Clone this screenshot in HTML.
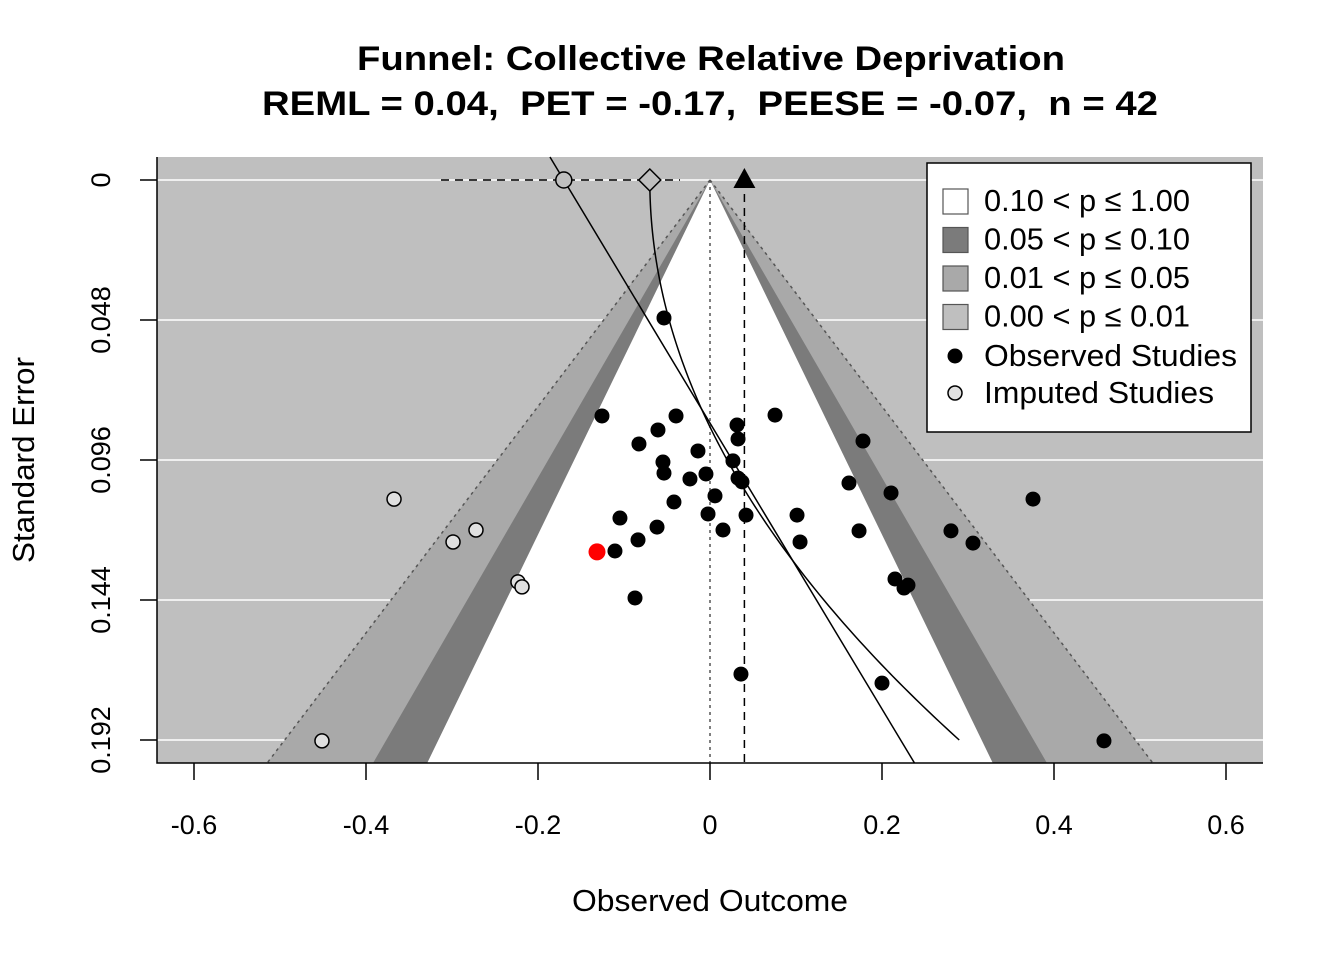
<!DOCTYPE html>
<html><head><meta charset="utf-8"><style>
body{margin:0;background:#fff;}
svg text{font-family:"Liberation Sans",Arial,sans-serif;white-space:pre;}
</style></head><body>
<svg id="chart" width="1344" height="960" xmlns="http://www.w3.org/2000/svg" xml:space="preserve">
<text x="711" y="70" text-anchor="middle" font-size="34" font-weight="bold" textLength="708" lengthAdjust="spacingAndGlyphs">Funnel: Collective Relative Deprivation</text>
<text x="710" y="115" text-anchor="middle" font-size="34" font-weight="bold" textLength="896" lengthAdjust="spacingAndGlyphs">REML = 0.04,  PET = -0.17,  PEESE = -0.07,  n = 42</text>
<g id="plot"></g>
<text x="710" y="911" text-anchor="middle" font-size="31" textLength="276" lengthAdjust="spacingAndGlyphs">Observed Outcome</text>
<text transform="translate(34,460) rotate(-90)" text-anchor="middle" font-size="31" textLength="206" lengthAdjust="spacingAndGlyphs">Standard Error</text>
</svg>
<script>
const obsEst=[-0.0535,-0.1256,-0.0395,0.0756,0.0314,-0.0605,0.0326,-0.0826,0.1779,-0.014,0.0267,-0.0547,-0.0535,-0.0047,-0.0233,0.0326,0.0372,0.1616,0.2105,0.0058,-0.0419,0.3756,-0.0023,0.1012,0.0419,-0.1047,-0.0616,0.0151,0.1733,0.2802,-0.0837,0.1047,0.3058,-0.1105,0.2151,0.2256,0.2302,-0.0872,0.036,0.2,0.4581];
const obsSE=[0.0473,0.0809,0.0809,0.0806,0.084,0.0857,0.0888,0.0905,0.0895,0.0929,0.0963,0.0967,0.1005,0.1008,0.1025,0.1022,0.1035,0.1039,0.1073,0.1083,0.1104,0.1094,0.1145,0.1149,0.1149,0.1159,0.119,0.12,0.1203,0.1203,0.1234,0.1241,0.1245,0.1272,0.1368,0.1399,0.1389,0.1433,0.1694,0.1725,0.1923];
const highEst=[-0.1314];
const highSE=[0.1275];
const impEst=[-0.3674,-0.2721,-0.2988,-0.2233,-0.2186,-0.4512];
const impSE=[0.1094,0.12,0.1241,0.1378,0.1395,0.1923];
const xTicks=[-0.6,-0.4,-0.2,0,0.2,0.4,0.6];
const xTickLabels=["-0.6","-0.4","-0.2","0","0.2","0.4","0.6"];
const yTicks=[0,0.048,0.096,0.144,0.192];
const yTickLabels=["0","0.048","0.096","0.144","0.192"];
const reml=[0.04], pet=[-0.17, 2.04], peese=[-0.07, 9.76];
const zVals=[1.645,1.96,2.576];

const NS="http://www.w3.org/2000/svg";
const L=157,R=1263,T=157,B=763;
const X=v=>710+v*860, Y=s=>180+s*2916.7;
const seMin=(T-180)/2916.7, seMax=(B-180)/2916.7;
const g=document.getElementById('plot');
function mk(tag,attrs){const e=document.createElementNS(NS,tag);for(const k in attrs)e.setAttribute(k,attrs[k]);g.appendChild(e);return e;}
let e=mk('rect',{x:L,y:T,width:R-L,height:B-T,fill:'#bfbfbf'});


yTicks.forEach((t,i)=>{let l=mk('line',{x1:L,x2:R,y1:Y(t),y2:Y(t),stroke:'#fff','stroke-width':1.5});

});
function tri(z,fill,name){let p=mk('polygon',{points:`${X(0)},${Y(0)} ${X(-z*seMax)},${B} ${X(z*seMax)},${B}`,fill:fill});

}
tri(zVals[2],'#a9a9a9','region-p01-05');
tri(zVals[1],'#7b7b7b','region-p05-10');
tri(zVals[0],'#ffffff','region-p10-100');
[-1,1].forEach(s=>{let l=mk('polyline',{points:`${X(0)},${Y(0)} ${X(s*zVals[2]*seMax)},${B}`,stroke:'#555','stroke-dasharray':'3,4',fill:'none','stroke-width':1.5});

});
e=mk('line',{x1:X(0),x2:X(0),y1:Y(0),y2:B,stroke:'#555','stroke-dasharray':'3,4','stroke-width':1.5});


e=mk('line',{x1:X(reml[0]),x2:X(reml[0]),y1:Y(0),y2:B,stroke:'#000','stroke-dasharray':'8,6','stroke-width':1.5});


e=mk('line',{x1:441,x2:680,y1:Y(0),y2:Y(0),stroke:'#000','stroke-dasharray':'8,6','stroke-width':1.5});


e=mk('line',{x1:X(pet[0]+pet[1]*seMin),y1:T,x2:X(pet[0]+pet[1]*seMax),y2:B,stroke:'#000','stroke-width':1.5});


let pts=[];for(let s=0;s<=0.1925;s+=0.002)pts.push(X(peese[0]+peese[1]*s*s)+','+Y(s));
e=mk('polyline',{points:pts.join(' '),stroke:'#000',fill:'none','stroke-width':1.5});


e=mk('circle',{cx:X(pet[0]),cy:Y(0),r:8,fill:'#bfbfbf',stroke:'#000','stroke-width':1.5});


const dx=X(peese[0]),dy=Y(0);
e=mk('polygon',{points:`${dx},${dy-11} ${dx+11},${dy} ${dx},${dy+11} ${dx-11},${dy}`,fill:'#bfbfbf',stroke:'#000','stroke-width':1.5});


const tx=X(reml[0]);
e=mk('polygon',{points:`${tx},${dy-12} ${tx+11},${dy+8} ${tx-11},${dy+8}`,fill:'#000'});


impEst.forEach((v,i)=>{let c=mk('circle',{cx:X(v),cy:Y(impSE[i]),r:7,fill:'#e0e0e0',stroke:'#000','stroke-width':1.5});

});
obsEst.forEach((v,i)=>{let c=mk('circle',{cx:X(v),cy:Y(obsSE[i]),r:7.5,fill:'#000'});

});
highEst.forEach((v,i)=>{let c=mk('circle',{cx:X(v),cy:Y(highSE[i]),r:8.5,fill:'#ff0000'});

});
e=mk('polyline',{points:`${L},${T} ${L},${B} ${R},${B}`,fill:'none',stroke:'#000','stroke-width':1.5});


xTicks.forEach((t,i)=>{mk('line',{x1:X(t),x2:X(t),y1:B,y2:B+17,stroke:'#000','stroke-width':1.5});
let tt=mk('text',{x:X(t),y:834,'text-anchor':'middle','font-size':27});tt.textContent=xTickLabels[i];

});
yTicks.forEach((t,i)=>{mk('line',{x1:L,x2:L-17,y1:Y(t),y2:Y(t),stroke:'#000','stroke-width':1.5});
let tt=mk('text',{transform:`translate(110,${Y(t)}) rotate(-90)`,'text-anchor':'middle','font-size':27});tt.textContent=yTickLabels[i];

});
// legend
e=mk('rect',{x:927,y:163,width:324,height:269,fill:'#fff',stroke:'#000','stroke-width':1.5});


const leg=[['#ffffff','0.10 < p ≤ 1.00'],['#7b7b7b','0.05 < p ≤ 0.10'],['#a9a9a9','0.01 < p ≤ 0.05'],['#bfbfbf','0.00 < p ≤ 0.01']];
leg.forEach((l,i)=>{const y=201+i*38.5;
let r=mk('rect',{x:943,y:y-12,width:25,height:25,fill:l[0],stroke:'#555','stroke-width':1.2});


let t=mk('text',{x:984,y:y+10,'font-size':31,textLength:206,lengthAdjust:'spacingAndGlyphs'});t.textContent=l[1];

});
e=mk('circle',{cx:955,cy:356,r:7.5,fill:'#000'});
e=mk('text',{x:984,y:366,'font-size':31,textLength:253,lengthAdjust:'spacingAndGlyphs'});e.textContent='Observed Studies';


e=mk('circle',{cx:955,cy:393,r:7,fill:'#e0e0e0',stroke:'#000','stroke-width':1.5});
e=mk('text',{x:984,y:403,'font-size':31,textLength:230,lengthAdjust:'spacingAndGlyphs'});e.textContent='Imputed Studies';


</script>
</body></html>
